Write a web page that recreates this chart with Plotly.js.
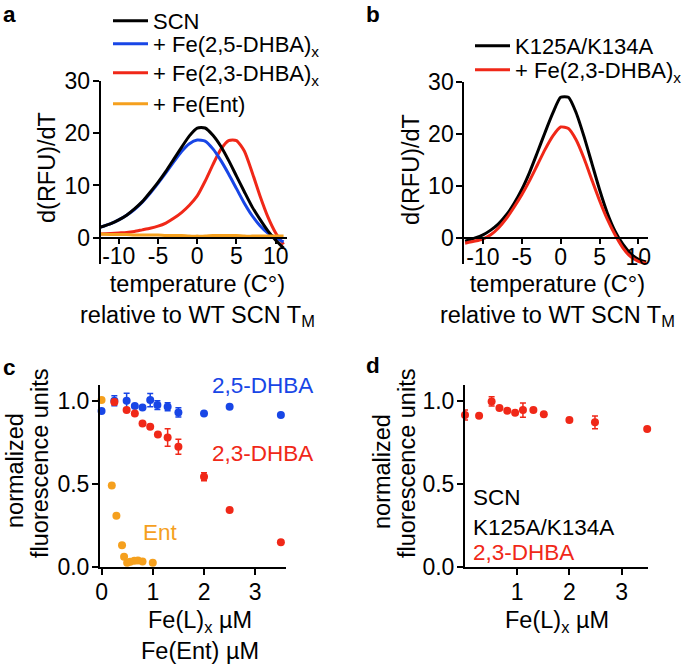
<!DOCTYPE html>
<html>
<head>
<meta charset="utf-8">
<script src="https://cdn.plot.ly/plotly-3.0.1.min.js"></script>
<style>
  html, body { margin: 0; padding: 0; background: #fff; }
  #fig { width: 693px; height: 666px; }
</style>
</head>
<body>
<div id="fig"></div>
<script>
// panel a: thermal shift derivative curves, SCN
var tempA     = [-12.4, -11, -10, -9, -8, -7, -6, -5, -4, -3, -2, -1, 0, 1, 2, 3, 4, 5, 6, 7, 8, 9, 10, 11];
var scnA      = [2.0, 2.7, 3.4, 4.3, 5.5, 6.9, 8.7, 10.6, 12.7, 15.0, 17.3, 19.5, 21.0, 21.0, 19.6, 17.5, 14.8, 11.8, 8.8, 5.9, 3.5, 1.3, -0.5, -2.0];
var dhba25A   = [2.0, 2.7, 3.4, 4.3, 5.4, 6.8, 8.5, 10.4, 12.4, 14.5, 16.5, 18.0, 18.7, 18.5, 17.0, 14.8, 12.2, 9.4, 6.6, 4.2, 2.3, 0.9, 0.0, -0.8];
var dhba23A   = [0.7, 0.8, 0.9, 1.0, 1.2, 1.5, 1.8, 2.2, 2.8, 3.7, 4.8, 6.2, 8.0, 10.8, 14.0, 16.9, 18.6, 18.6, 16.6, 12.5, 8.0, 4.0, 0.9, -1.3];
var entA      = [0.7, 0.6, 0.6, 0.6, 0.5, 0.5, 0.5, 0.5, 0.4, 0.4, 0.4, 0.3, 0.3, 0.3, 0.4, 0.4, 0.4, 0.4, 0.3, 0.3, 0.3, 0.3, 0.3, 0.3];

// panel b: K125A/K134A mutant
var tempB     = [-12.3, -11, -10, -9, -8, -7, -6, -5, -4, -3, -2, -1, 0, 1, 2, 3, 4, 5, 6, 7, 8, 9, 10, 11];
var mutB      = [-0.6, 0.0, 0.6, 1.5, 2.7, 4.4, 6.6, 9.3, 12.6, 16.4, 20.3, 24.0, 27.0, 27.0, 24.0, 19.5, 14.4, 9.3, 4.8, 1.3, -1.2, -3.0, -4.1, -4.6];
var mutDhbaB  = [-1.0, -0.6, -0.2, 0.6, 1.9, 3.7, 5.9, 8.3, 11.0, 14.0, 17.0, 19.6, 21.3, 21.0, 18.8, 15.3, 11.2, 7.2, 3.6, 0.6, -1.9, -3.6, -4.5, -4.9];

// panel c: fluorescence vs Fe(L)x
var concC25   = [0, 0.25, 0.49, 0.65, 0.80, 0.95, 1.09, 1.29, 1.50, 2.0, 2.5, 3.5];
var fluC25    = [0.938, 1.0, 1.0, 0.968, 0.96, 1.004, 0.974, 0.964, 0.93, 0.924, 0.964, 0.914];
var errC25    = [0, 0.03, 0.045, 0, 0, 0.04, 0.026, 0.024, 0.028, 0, 0, 0];
var concC23   = [0.25, 0.49, 0.65, 0.80, 0.95, 1.10, 1.29, 1.50, 2.0, 2.5, 3.5];
var fluC23    = [0.992, 0.944, 0.924, 0.863, 0.843, 0.797, 0.779, 0.723, 0.542, 0.341, 0.147];
var errC23    = [0.015, 0, 0, 0, 0, 0, 0.053, 0.045, 0.024, 0, 0];
var concCEnt  = [0, 0.2, 0.29, 0.40, 0.44, 0.50, 0.56, 0.64, 0.71, 0.80, 1.0];
var fluCEnt   = [1.004, 0.49, 0.307, 0.13, 0.06, 0.024, 0.03, 0.036, 0.038, 0.032, 0.024];

// panel d: mutant with 2,3-DHBA
var concD     = [0, 0.27, 0.51, 0.66, 0.81, 0.96, 1.11, 1.31, 1.51, 2.0, 2.49, 3.49];
var fluD      = [0.914, 0.91, 0.996, 0.956, 0.94, 0.928, 0.944, 0.944, 0.918, 0.884, 0.87, 0.83];
var errD      = [0.03, 0, 0.028, 0, 0, 0, 0.043, 0, 0, 0, 0.038, 0];

var tempTicks = [-10, -5, 0, 5, 10];
var tempTickText = ['-10', '-5', '0', '5', '10'];

var BLACK = '#000000', BLUE = '#1846e6', RED = '#f02818', ORANGE = '#f5a01e';
var FONT = 'Liberation Sans, Arial, Helvetica, sans-serif';
var W = 693, H = 666;
var TITLE_SIZE = 23.5;

function fx(px){ return px / W; }
function fy(py){ return 1 - py / H; }

function lineTrace(x, y, name, color, xa, ya, leg){
	return {x: x, y: y, name: name, type: 'scatter', mode: 'lines',
		line: {color: color, width: 3, shape: 'spline', smoothing: 0.6},
		xaxis: xa, yaxis: ya, legend: leg, showlegend: true};
}

function dotTrace(x, y, err, color, xa, ya){
	var t = {x: x, y: y, type: 'scatter', mode: 'markers', showlegend: false,
		marker: {color: color, size: 8},
		cliponaxis: false, xaxis: xa, yaxis: ya};
	if(err){
		t.error_y = {type: 'data', array: err, visible: true, color: color, thickness: 1.5, width: 3};
	}
	return t;
}

// one legend box per entry so the rows sit where the figure has them;
// draw order: black above blue, orange on top
var data = [
	lineTrace(tempA, dhba23A, '+ Fe(2,3-DHBA)<sub>x</sub>', RED, 'x', 'y', 'legend3'),
	lineTrace(tempA, dhba25A, '+ Fe(2,5-DHBA)<sub>x</sub>', BLUE, 'x', 'y', 'legend2'),
	lineTrace(tempA, scnA, 'SCN', BLACK, 'x', 'y', 'legend'),
	lineTrace(tempA, entA, '+ Fe(Ent)', ORANGE, 'x', 'y', 'legend4'),
	lineTrace(tempB, mutB, 'K125A/K134A', BLACK, 'x2', 'y2', 'legend5'),
	lineTrace(tempB, mutDhbaB, '+ Fe(2,3-DHBA)<sub>x</sub>', RED, 'x2', 'y2', 'legend6'),
	dotTrace(concC25, fluC25, errC25, BLUE, 'x3', 'y3'),
	dotTrace(concC23, fluC23, errC23, RED, 'x3', 'y3'),
	dotTrace(concCEnt, fluCEnt, null, ORANGE, 'x3', 'y3'),
	dotTrace(concD, fluD, errD, RED, 'x4', 'y4')
];

var domA = {x: [fx(100.7), fx(286.7)], y: [fy(263.8), fy(81)]};
var domB = {x: [fx(464.3), fx(647.7)], y: [fy(264), fy(81.7)]};
var domC = {x: [fx(100), fx(286)], y: [fy(566.7), fy(385)]};
var domD = {x: [fx(465), fx(647.7)], y: [fy(566.7), fy(385)]};

var rangeYA = [-5, 30], rangeYB = [-5, 30];

// x axis of a and b sits at y = 0
function zeroPos(dom, rng){
	return dom.y[0] + (0 - rng[0]) / (rng[1] - rng[0]) * (dom.y[1] - dom.y[0]);
}

var tickFont = {family: FONT, size: 23, color: '#000'};

function baseAxis(extra){
	var a = {showgrid: false, zeroline: false, showline: true, linecolor: '#000', linewidth: 2,
		ticks: 'outside', ticklen: 6, tickwidth: 2, tickcolor: '#000', tickfont: tickFont,
		ticklabelstandoff: -2};
	for(var k in extra){ a[k] = extra[k]; }
	return a;
}

var tempTitle = 'temperature (C°)<br>relative to WT SCN T<sub>M</sub>';

function legendBox(px, py){
	return {x: fx(px), y: fy(py), xanchor: 'left', yanchor: 'top', bgcolor: 'rgba(0,0,0,0)',
		font: {family: FONT, size: 22, color: '#000'}, itemwidth: 35, tracegroupgap: 0};
}

var layout = {
	width: W, height: H,
	margin: {l: 0, r: 0, t: 0, b: 0},
	paper_bgcolor: '#fff', plot_bgcolor: 'rgba(0,0,0,0)',
	font: {family: FONT, size: 22, color: '#000'},
	xaxis: baseAxis({domain: domA.x, range: [-12.3, 11.4], anchor: 'free', position: zeroPos(domA, rangeYA),
		tickvals: tempTicks, ticktext: tempTickText, ticklen: 5, ticklabelstandoff: -7}),
	yaxis: baseAxis({domain: domA.y, range: rangeYA, anchor: 'x', tickvals: [0, 10, 20, 30]}),
	xaxis2: baseAxis({domain: domB.x, range: [-12.4, 11.2], anchor: 'free', position: zeroPos(domB, rangeYB),
		tickvals: tempTicks, ticktext: tempTickText, ticklen: 5, ticklabelstandoff: -7}),
	yaxis2: baseAxis({domain: domB.y, range: rangeYB, anchor: 'x2', tickvals: [0, 10, 20, 30]}),
	xaxis3: baseAxis({domain: domC.x, range: [-0.03, 3.6], anchor: 'y3', tickvals: [0, 1, 2, 3]}),
	yaxis3: baseAxis({domain: domC.y, range: [0, 1.095], anchor: 'x3', tickvals: [0, 0.5, 1], ticktext: ['0.0', '0.5', '1.0']}),
	xaxis4: baseAxis({domain: domD.x, range: [0, 3.5], anchor: 'y4', tickvals: [1, 2, 3]}),
	yaxis4: baseAxis({domain: domD.y, range: [0, 1.095], anchor: 'x4', tickvals: [0, 0.5, 1], ticktext: ['0.0', '0.5', '1.0']}),
	legend:  legendBox(108, 0),
	legend2: legendBox(108, 23),
	legend3: legendBox(108, 52),
	legend4: legendBox(108, 83),
	legend5: legendBox(470, 25),
	legend6: legendBox(470, 49),
	annotations: [
		{text: '<b>a</b>', x: fx(1), y: fy(15), xanchor: 'left'},
		{text: '<b>b</b>', x: fx(364), y: fy(15), xanchor: 'left'},
		{text: '<b>c</b>', x: fx(1), y: fy(367), xanchor: 'left'},
		{text: '<b>d</b>', x: fx(364), y: fy(365), xanchor: 'left'},
		// axis titles
		{text: 'd(RFU)/dT', x: fx(47), y: fy(168), textangle: -90, font: {size: TITLE_SIZE}},
		{text: 'd(RFU)/dT', x: fx(411), y: fy(170), textangle: -90, font: {size: TITLE_SIZE}},
		{text: tempTitle, x: fx(197), y: fy(300), font: {size: TITLE_SIZE}},
		{text: tempTitle, x: fx(557), y: fy(300), font: {size: TITLE_SIZE}},
		{text: 'normalized', x: fx(15), y: fy(471), textangle: -90, font: {size: TITLE_SIZE}},
		{text: 'fluorescence units', x: fx(40), y: fy(464), textangle: -90, font: {size: TITLE_SIZE}},
		{text: 'normalized', x: fx(382), y: fy(471), textangle: -90, font: {size: TITLE_SIZE}},
		{text: 'fluorescence units', x: fx(407), y: fy(464), textangle: -90, font: {size: TITLE_SIZE}},
		{text: 'Fe(L)<sub>x</sub> µM', x: fx(200), y: fy(621), font: {size: TITLE_SIZE}},
		{text: 'Fe(Ent) µM', x: fx(200), y: fy(651), font: {size: TITLE_SIZE}},
		{text: 'Fe(L)<sub>x</sub> µM', x: fx(557), y: fy(621), font: {size: TITLE_SIZE}},
		// in-plot labels
		{text: '2,5-DHBA', x: fx(262), y: fy(385), font: {color: BLUE}},
		{text: '2,3-DHBA', x: fx(262), y: fy(453), font: {color: RED}},
		{text: 'Ent', x: fx(160), y: fy(532), font: {color: ORANGE}},
		{text: 'SCN', x: fx(471), y: fy(497), xanchor: 'left'},
		{text: 'K125A/K134A', x: fx(471), y: fy(527), xanchor: 'left'},
		{text: '2,3-DHBA', x: fx(471), y: fy(552), xanchor: 'left', font: {color: RED}}
	].map(function(a){
		a.xref = 'paper'; a.yref = 'paper'; a.showarrow = false;
		if(!a.xanchor){ a.xanchor = 'center'; }
		if(!a.yanchor){ a.yanchor = 'middle'; }
		a.font = Object.assign({family: FONT, size: 22.5, color: '#000'}, a.font || {});
		return a;
	})
};

Plotly.newPlot('fig', data, layout, {displayModeBar: false, staticPlot: true});
</script>
</body>
</html>
